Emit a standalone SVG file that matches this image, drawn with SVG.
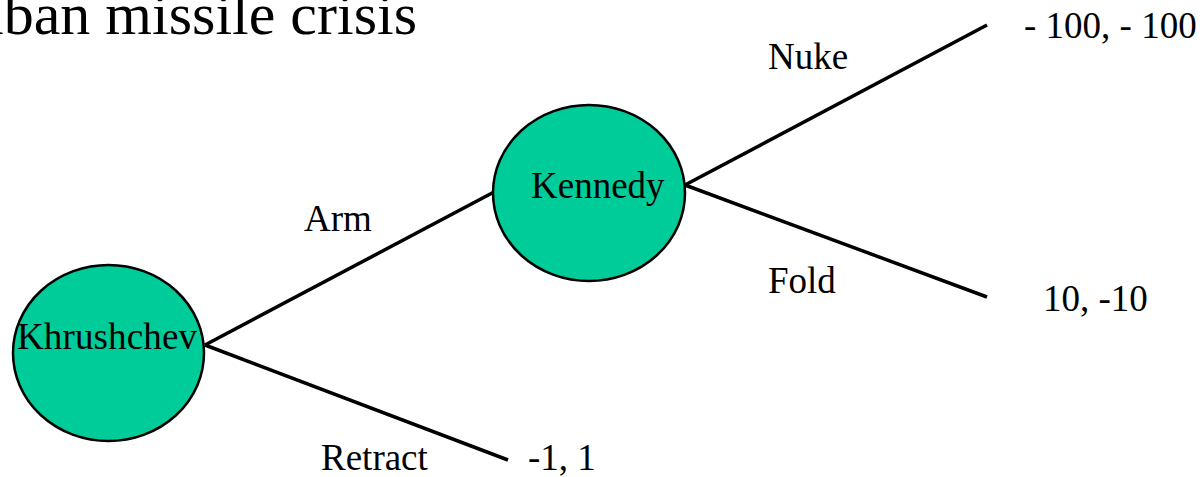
<svg xmlns="http://www.w3.org/2000/svg" width="1202" height="477" viewBox="0 0 1202 477">
<style>
text{font-family:"Liberation Serif","Times New Roman",serif;fill:#000;font-size:37px}
.node{fill:#00CC99;stroke:#000;stroke-width:2.5}
.edge{stroke:#000;stroke-width:3.5;fill:none;stroke-linecap:butt}
</style>
<rect width="1202" height="477" fill="#fff"/>
<text id="title" x="417" y="34" text-anchor="end" style="font-size:60px">Cuban missile crisis</text>
<g id="connectors">
<line class="edge" x1="205" y1="345" x2="494" y2="192"/>
<line class="edge" x1="205" y1="345" x2="508" y2="460"/>
<line class="edge" x1="685" y1="185" x2="987" y2="25"/>
<line class="edge" x1="685" y1="185" x2="987" y2="297"/>
</g>
<g id="khrushchev">
<ellipse class="node" cx="108.5" cy="353" rx="95.5" ry="88"/>
<text x="17" y="349" textLength="180">Khrushchev</text>
</g>
<g id="kennedy">
<ellipse class="node" cx="589" cy="193" rx="96" ry="88"/>
<text x="531" y="198">Kennedy</text>
</g>
<g id="labels">
<text x="304" y="231">Arm</text>
<text x="321" y="470">Retract</text>
<text x="768" y="69">Nuke</text>
<text x="768" y="293">Fold</text>
<text x="528" y="470">-1, 1</text>
<text x="1024" y="38">- 100, - 100</text>
<text x="1043" y="311">10, -10</text>
</g>
</svg>
